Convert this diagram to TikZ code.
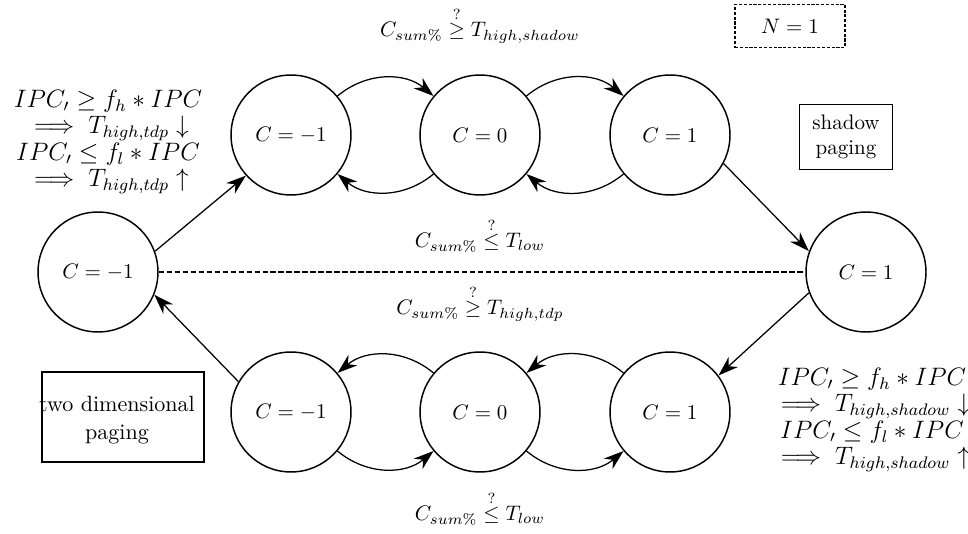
\documentclass[tikz,border=0pt]{standalone}
\usepackage{fix-cm}
\usepackage{amsmath,amssymb}
\usetikzlibrary{arrows.meta}
\begin{document}
\begin{tikzpicture}[x=0.476pt,y=0.476pt,
  state/.style={draw,circle,line width=0.7pt,minimum size=57.1pt,inner sep=0pt},
  arr/.style={-{Stealth[length=9.5pt,width=6.5pt,inset=3pt]},line width=0.6pt},
  plainbox/.style={draw,line width=0.6pt,rectangle,inner sep=0pt},
  lbl/.style={inner sep=0pt,align=center},
  ann/.style={inner sep=0pt,align=center,font=\fontsize{12}{12.6}\selectfont}]
\useasboundingbox (0,0) rectangle (968,533);
% states
\node[state] (T1) at (291,398) {$C=-1$};
\node[state] (T2) at (480,398) {$C=0$};
\node[state] (T3) at (670,398) {$C=1$};
\node[state] (L) at (98,261) {$C=-1$};
\node[state] (R) at (866,261) {$C=1$};
\node[state] (B1) at (291,121) {$C=-1$};
\node[state] (B2) at (480,121) {$C=0$};
\node[state] (B3) at (670,121) {$C=1$};
% arcs
\draw[arr] (T1) to[bend left=40] (T2);
\draw[arr] (T2) to[bend left=40] (T1);
\draw[arr] (T2) to[bend left=40] (T3);
\draw[arr] (T3) to[bend left=40] (T2);
\draw[arr] (B2) to[bend right=40] (B1);
\draw[arr] (B1) to[bend right=40] (B2);
\draw[arr] (B3) to[bend right=40] (B2);
\draw[arr] (B2) to[bend right=40] (B3);
% diagonals
\draw[arr] (L.20) -- (T1.222);
\draw[arr] (T3.-28) -- (R.160);
\draw[arr] (R.200) -- (B3.37);
\draw[arr] (B1.150) -- (L.-22);
% dashed
\draw[line width=0.6pt,dash pattern=on 2.5pt off 1.3pt] (L) -- (R);
% labels
\node[lbl] (ltop) at (480,508) {$C_{sum\%} \overset{?}{\geq} T_{high,shadow}$};
\node[lbl] (llow) at (480,298) {$C_{sum\%} \overset{?}{\leq} T_{low}$};
\node[lbl] (ltdp) at (480,230) {$C_{sum\%} \overset{?}{\geq} T_{high,tdp}$};
\node[lbl] (lbot) at (480,25) {$C_{sum\%} \overset{?}{\leq} T_{low}$};
\node[ann] (lann) at (108,391) {$IPC_{\prime} \geq f_h * IPC$\\ $\implies T_{high,tdp} \downarrow$\\ $IPC_{\prime} \leq f_l * IPC$\\ $\implies T_{high,tdp} \uparrow$};
\node[ann] (rann) at (872,113) {$IPC_{\prime} \geq f_h * IPC$\\ $\implies T_{high,shadow} \downarrow$\\ $IPC_{\prime} \leq f_l * IPC$\\ $\implies T_{high,shadow} \uparrow$};
% boxes
\node[plainbox,dash pattern=on 1.5pt off 0.8pt,minimum width=52.4pt,minimum height=20.5pt] (nbox) at (790,507) {$N=1$};
\node[plainbox,minimum width=44.3pt,minimum height=31pt,align=center] (sbox) at (846,396) {shadow\\paging};
\node[plainbox,minimum width=77.1pt,minimum height=42.9pt] (tbox) at (123,116) {};
\node[lbl,font=\fontsize{10.5}{13.3}\selectfont] (ttext) at (117,113) {two dimensional\\paging};
\end{tikzpicture}
\end{document}
